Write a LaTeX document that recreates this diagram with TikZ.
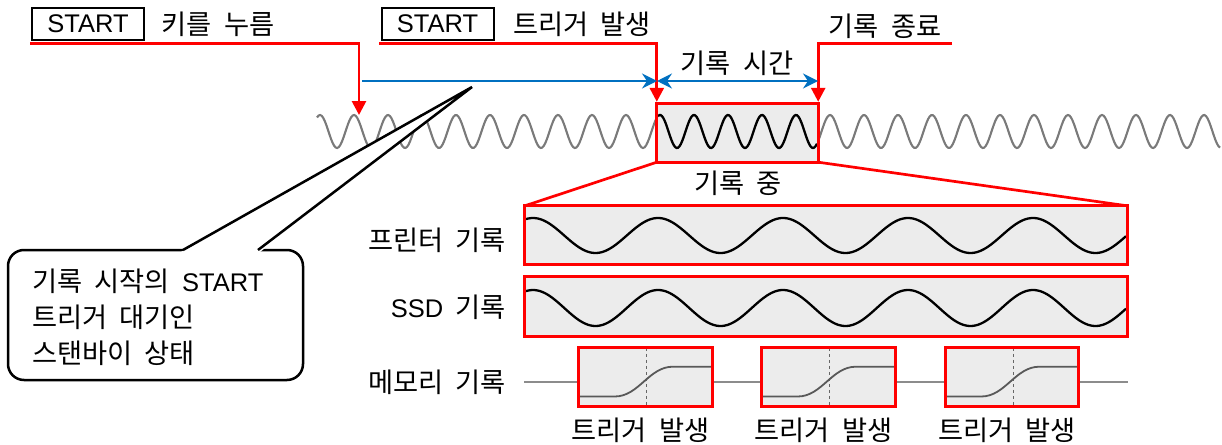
\documentclass[tikz,border=0pt]{standalone}
\usepackage{fontspec}
\setmainfont{Liberation Sans}
\newfontfamily\kr{Noto Sans CJK KR}[Scale=1.07, WordSpace=2.0]
\usetikzlibrary{arrows.meta}
\definecolor{myblue}{RGB}{0,112,192}
\definecolor{myred}{RGB}{255,0,0}
\definecolor{wavegray}{RGB}{122,122,122}
\definecolor{recfill}{RGB}{236,236,236}
\definecolor{memgray}{RGB}{140,140,140}
\begin{document}
\begin{tikzpicture}[x=1pt,y=-1pt,
  lbl/.style={inner sep=0pt, font=\fontsize{25.5}{30}\selectfont},
  keybox/.style={draw, line width=2pt, minimum width=112pt, minimum height=32pt, inner sep=0pt, font=\fontsize{25.5}{30}\selectfont},
  redln/.style={draw=myred, line width=2.7pt, line join=miter},
  redarr/.style={redln, -{Triangle[length=14pt,width=14pt]}},
  bluearr/.style={draw=myblue, line width=2.2pt, -{Stealth[length=15pt,width=15pt,inset=5pt]}},
  bluedbl/.style={draw=myblue, line width=2.2pt, {Stealth[length=15pt,width=15pt,inset=5pt]}-{Stealth[length=15pt,width=15pt,inset=5pt]}},
  recfillbox/.style={fill=recfill, inner sep=0pt},
  recborder/.style={draw=myred, line width=2.7pt},
  graywave/.style={draw=wavegray, line width=2.1pt},
  blackwave/.style={draw=black, line width=2.3pt},
  memcurve/.style={draw=black!65, line width=1.8pt},
  memline/.style={draw=memgray, line width=1.4pt},
  trigline/.style={draw=black!60, line width=1pt, dash pattern=on 3pt off 3pt},
  callbox/.style={draw, line width=2.5pt, rounded corners=16pt, fill=white, minimum width=295pt, minimum height=130pt, inner sep=0pt},
]
\useasboundingbox (0,0) rectangle (1222,444);

% ---------- top labels ----------
\node[keybox] (start1) at (88,24) {START};
\node[lbl] (press) at (218,24) {\kr 키를 누름};
\node[keybox] (start2) at (437.5,24) {START};
\node[lbl] (trigtop) at (582,24) {\kr 트리거 발생};
\node[lbl] (recend) at (885,26) {\kr 기록 종료};
\node[lbl] (rectime) at (737,63) {\kr 기록 시간};

% ---------- record window ----------
\node[recfillbox, minimum width=161pt, minimum height=58pt] (recwin) at (737.5,133) {};

% ---------- waveform ----------
\draw[graywave, domain=317:657, samples=220] plot (\x,{131.5-16.5*cos(10.5882*(\x-320))});
\draw[blackwave, domain=658:817, samples=120] plot (\x,{131.5-16.5*cos(10.5882*(\x-320))});
\draw[graywave, domain=818:1220, samples=260] plot (\x,{131.5-16.5*cos(10.5882*(\x-320))});
\draw[recborder] (recwin.south west) rectangle (recwin.north east);

% ---------- red markers ----------
\coordinate (u1) at (30,43.5);
\coordinate (a1) at (359,115);
\coordinate (u2) at (379,43.5);
\coordinate (u3) at (952,43.5);
\coordinate (a2) at ([yshift=2pt]recwin.north west);
\coordinate (a3) at ([yshift=2pt]recwin.north east);
\draw[redarr] (u1) -| (a1);
\draw[redarr] (u2) -| (a2);
\draw[redarr] (u3) -| (a3);

% ---------- blue arrows ----------
\coordinate (b0) at (362,81);
\coordinate (b1) at (657,81);
\coordinate (b2) at (818,81);
\draw[bluearr] (b0) -- (b1);
\draw[bluedbl] (b1) -- (b2);

% ---------- recording rows ----------
\node[lbl] (during) at (738,183) {\kr 기록 중};
\node[recfillbox, minimum width=602pt, minimum height=58pt] (printer) at (826,235) {};
\node[recfillbox, minimum width=602pt, minimum height=59pt] (ssd) at (826,306.5) {};
\draw[redln] (recwin.south west) -- (printer.north west);
\draw[redln] (recwin.south east) -- (printer.north east);
\draw[blackwave, domain=526:1126, samples=300] plot (\x,{235.5-17.5*cos(2.88*(\x-908))});
\draw[blackwave, domain=526:1126, samples=300] plot (\x,{308-18*cos(2.88*(\x-908))});
\draw[recborder] (printer.south west) rectangle (printer.north east);
\draw[recborder] (ssd.south west) rectangle (ssd.north east);

\node[lbl, anchor=east] (lprinter) at (506,240) {\kr 프린터 기록};
\node[lbl, anchor=east] (lssd) at (506,307) {SSD{\kr\ 기록}};
\node[lbl, anchor=east] (lmem) at (506,382) {\kr 메모리 기록};

% ---------- memory row ----------
\coordinate (memL) at (524,382);
\coordinate (memR) at (1128,382);
\draw[memline] (memL) -- (memR);
\foreach \cx/\n in {645.5/1,828.5/2,1012/3}{
  \node[recfillbox, minimum width=133pt, minimum height=58pt] (mem\n) at (\cx,377) {};
  \draw[trigline] ([xshift=1.2pt]mem\n.north) -- ([xshift=1.2pt]mem\n.south);
  \draw[memcurve] ([yshift=-19.5pt]mem\n.west) -- ++(36,0)
      .. controls +(24,0) and +(-24,0) .. ++(58,-29.8) -- ([yshift=10.3pt]mem\n.east);
  \draw[recborder] (mem\n.south west) rectangle (mem\n.north east);
  \node[lbl] (tl\n) at (\cx-5,430) {\kr 트리거 발생};
}

% ---------- callout ----------
\node[callbox] (callout) at (155.5,315) {};
\coordinate (ptip) at (472,87);
\coordinate (pl) at (183,250);
\coordinate (pr) at (258,250);
\fill[white] ([shift={(-2,2)}]pl) -- (ptip) -- ([shift={(2,2)}]pr) -- cycle;
\draw[line width=2.5pt, line join=miter] (pl) -- (ptip) -- (pr);
\node[lbl, anchor=west, align=left, font=\fontsize{25.5}{36}\selectfont] (calltext) at (32,317)
  {{\kr 기록 시작의\ }START\\{\kr 트리거 대기인}\\{\kr 스탠바이 상태}};
\end{tikzpicture}
\end{document}
